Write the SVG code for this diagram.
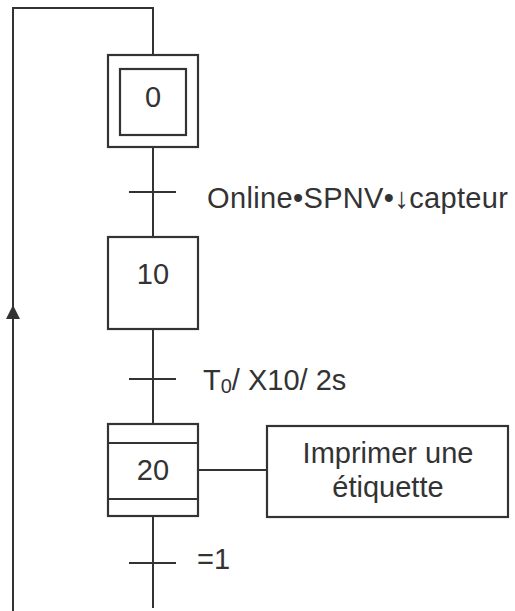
<svg xmlns="http://www.w3.org/2000/svg" width="515" height="611" viewBox="0 0 515 611">
  <style>
    .ln { stroke: #333; stroke-width: 2; fill: none; }
    .box { stroke: #333; stroke-width: 2.2; fill: #fff; }
    .t { font-family: "Liberation Sans", Arial, sans-serif; font-size: 29px; fill: #333; }
    .c { text-anchor: middle; }
  </style>
  <rect width="515" height="611" fill="#fff"/>
  <g id="connectors">
    <polyline class="ln" points="13,611 13,8 153,8 153,54"/>
    <polygon points="13,305 6,319 20,319" fill="#333"/>
    <line class="ln" x1="153" y1="147" x2="153" y2="237"/>
    <line class="ln" x1="153" y1="329" x2="153" y2="424"/>
    <line class="ln" x1="153" y1="516" x2="153" y2="608"/>
    <line class="ln" x1="198" y1="470" x2="267" y2="470"/>
  </g>
  <g id="trans1">
    <line class="ln" x1="129" y1="192" x2="176" y2="192"/>
    <text class="t" x="207" y="208" textLength="301" lengthAdjust="spacing">Online•SPNV•↓capteur</text>
  </g>
  <g id="trans2">
    <line class="ln" x1="129" y1="379" x2="176" y2="379"/>
    <text class="t" x="203" y="390">T<tspan font-size="20" dy="3">0</tspan><tspan dy="-3">/ X10/ 2s</tspan></text>
  </g>
  <g id="trans3">
    <line class="ln" x1="129" y1="563" x2="176" y2="563"/>
    <text class="t" x="197" y="569">=1</text>
  </g>
  <g id="step0">
    <rect class="box" x="108" y="55" width="90" height="92"/>
    <rect class="box" x="120" y="69" width="66" height="66"/>
    <text class="t c" x="153" y="107">0</text>
  </g>
  <g id="step10">
    <rect class="box" x="108" y="237" width="90" height="92"/>
    <text class="t c" x="153" y="284">10</text>
  </g>
  <g id="step20">
    <rect class="box" x="108" y="424" width="90" height="92"/>
    <line class="ln" x1="108" y1="443" x2="198" y2="443"/>
    <line class="ln" x1="108" y1="499" x2="198" y2="499"/>
    <text class="t c" x="153" y="480">20</text>
  </g>
  <g id="action20">
    <rect class="box" x="267" y="426" width="241" height="91"/>
    <text class="t c" x="388" y="463">Imprimer une</text>
    <text class="t c" x="388" y="497">étiquette</text>
  </g>
</svg>
